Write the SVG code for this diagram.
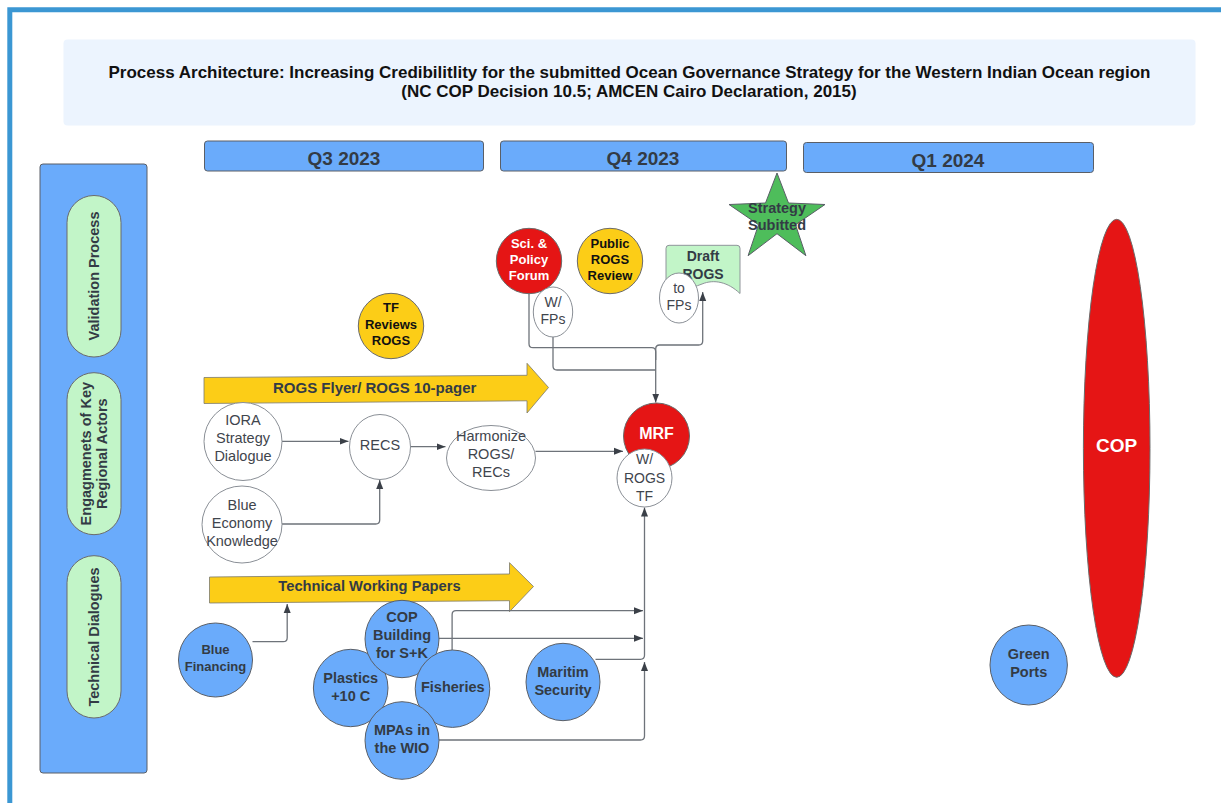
<svg xmlns="http://www.w3.org/2000/svg" width="1221" height="803" viewBox="0 0 1221 803">
  <defs>
    <marker id="ah" markerUnits="userSpaceOnUse" markerWidth="10" markerHeight="8" refX="9" refY="4" orient="auto">
      <path d="M0,0.5 L9,4 L0,7.5 Z" fill="#3b4048"/>
    </marker>
    <style>
      text { font-family: "Liberation Sans", Arial, sans-serif; text-anchor: middle; }
      .b { font-weight: bold; }
      .dk { fill: #333b45; }
      .gy { fill: #3f454d; }
      .wt { fill: #ffffff; }
      .bk { fill: #111111; }
      .blue { fill: #6aabfb; stroke: #5a5f67; stroke-width: 1; }
      .white { fill: #ffffff; stroke: #8a8f96; stroke-width: 1; }
      .red { fill: #e51515; stroke: #6a6a6a; stroke-width: 1; }
      .yel { fill: #fccd17; stroke: #6a6a6a; stroke-width: 1; }
      .pill { fill: #c2f5c8; stroke: #6b6b6b; stroke-width: 1; }
      .conn { fill: none; stroke: #6e737a; stroke-width: 1.3; }
      .arr { marker-end: url(#ah); }
    </style>
  </defs>

  <!-- page frame -->
  <path d="M9.8,803 V9.8 H1221" fill="none" stroke="#3b97d3" stroke-width="5"/>

  <!-- title -->
  <g id="title">
    <rect x="63.5" y="39.5" width="1132" height="86" rx="4" fill="#ecf4fe"/>
    <text x="629.5" y="77.8" class="b bk" font-size="17">Process Architecture: Increasing Credibilitlity for the submitted Ocean Governance Strategy for the Western Indian Ocean region</text>
    <text x="629" y="96.8" class="b bk" font-size="17">(NC COP Decision 10.5; AMCEN Cairo Declaration, 2015)</text>
  </g>

  <!-- quarter headers -->
  <g id="q3-2023">
    <rect x="204.5" y="141" width="279" height="30" rx="3" class="blue"/>
    <text x="344" y="164.8" class="b dk" font-size="19">Q3 2023</text>
  </g>
  <g id="q4-2023">
    <rect x="500.5" y="141" width="286" height="30" rx="3" class="blue"/>
    <text x="643" y="164.8" class="b dk" font-size="19">Q4 2023</text>
  </g>
  <g id="q1-2024">
    <rect x="803.5" y="142.5" width="290" height="30" rx="3" class="blue"/>
    <text x="948" y="166.8" class="b dk" font-size="19">Q1 2024</text>
  </g>

  <!-- swimlane labels -->
  <g id="lanes">
    <rect x="40" y="164" width="107" height="609" rx="3" class="blue"/>
  </g>
  <g id="lane-validation">
    <rect x="67" y="195.5" width="54" height="161.5" rx="27" class="pill" stroke="#4a90d9"/>
    <text transform="translate(99,276) rotate(-90)" class="b dk" font-size="14.5">Validation Process</text>
  </g>
  <g id="lane-engagement">
    <rect x="67" y="372.7" width="54" height="162" rx="27" class="pill"/>
    <text transform="translate(91.3,453.7) rotate(-90)" class="b dk" font-size="14.5">Engagmenets of Key</text>
    <text transform="translate(106.8,453.7) rotate(-90)" class="b dk" font-size="14.5">Regional Actors</text>
  </g>
  <g id="lane-technical">
    <rect x="67" y="555.7" width="54" height="162.3" rx="27" class="pill"/>
    <text transform="translate(99,637) rotate(-90)" class="b dk" font-size="14.5">Technical Dialogues</text>
  </g>

  <!-- block arrows -->
  <g id="rogs-flyer">
    <path d="M204,377.5 L527,375.3 L527,363.3 L548.5,387.5 L527,413 L527,400.8 L204,403.5 Z" fill="#fccd17" stroke="#7a7a70" stroke-width="0.8" stroke-linejoin="round"/>
    <text x="374.7" y="392.5" class="b dk" font-size="15">ROGS Flyer/ ROGS 10-pager</text>
  </g>
  <g id="technical-papers">
    <path d="M209.5,577 L509.5,574 L509.5,562.7 L533.5,586.5 L509.5,611.7 L509.5,600.7 L209.5,603 Z" fill="#fccd17" stroke="#7a7a70" stroke-width="0.8" stroke-linejoin="round"/>
    <text x="369.5" y="591.3" class="b dk" font-size="14.7">Technical Working Papers</text>
  </g>

  <!-- connectors -->
  <g id="connectors">
    <path class="conn arr" d="M529,293.5 V343.7 Q529,347.7 533,347.7 H651.7 Q655.7,347.7 655.7,351.7 V402.5"/>
    <path class="conn" d="M553,336.7 V366 Q553,370 557,370 H655.7"/>
    <path class="conn arr" d="M655.7,360 V349 Q655.7,345 659.7,345 H698.7 Q702.7,345 702.7,341 V292"/>
    <path class="conn arr" d="M282,441.3 H348.5"/>
    <path class="conn arr" d="M410.3,446.7 H445.5"/>
    <path class="conn arr" d="M535.5,451.3 H623"/>
    <path class="conn arr" d="M281.8,524 H375.7 Q379.7,524 379.7,520 V480"/>
    <path class="conn arr" d="M252.5,641.7 H283.2 Q287.2,641.7 287.2,637.7 V604"/>
    <path class="conn arr" d="M452.1,650 V614.7 Q452.1,610.7 456.1,610.7 H643"/>
    <path class="conn arr" d="M438.9,638.3 H643"/>
    <path class="conn arr" d="M595.5,659.3 H640.5 Q644.5,659.3 644.5,655.3 V507.5"/>
    <path class="conn arr" d="M438.9,740 H640.5 Q644.5,740 644.5,736 V662"/>
  </g>

  <!-- validation stage nodes -->
  <g id="tf-reviews">
    <circle cx="391" cy="326" r="32.7" class="yel"/>
    <text x="391" y="312.4" class="b bk" font-size="13">TF</text>
    <text x="391" y="329" class="b bk" font-size="13">Reviews</text>
    <text x="391" y="345" class="b bk" font-size="13">ROGS</text>
  </g>
  <g id="sci-policy-forum">
    <circle cx="529" cy="261" r="32.7" class="red"/>
    <text x="529" y="248" class="b wt" font-size="13">Sci. &amp;</text>
    <text x="529" y="264.2" class="b wt" font-size="13">Policy</text>
    <text x="529" y="280.4" class="b wt" font-size="13">Forum</text>
  </g>
  <g id="with-fps">
    <ellipse cx="553" cy="312" rx="19.7" ry="25" class="white"/>
    <text x="553" y="306.7" class="gy" font-size="14">W/</text>
    <text x="553" y="324.3" class="gy" font-size="14">FPs</text>
  </g>
  <g id="public-review">
    <circle cx="610" cy="261" r="32.7" class="yel"/>
    <text x="610" y="247.6" class="b bk" font-size="13">Public</text>
    <text x="610" y="263.9" class="b bk" font-size="13">ROGS</text>
    <text x="610" y="280.4" class="b bk" font-size="13">Review</text>
  </g>
  <g id="draft-rogs">
    <path d="M669,245.3 H737 Q740,245.3 740,248.3 V293.5 C728,282 714,279 702,284 C690,289 678,290 666,285 V248.3 Q666,245.3 669,245.3 Z" fill="#c2f5c8" stroke="#8f949a" stroke-width="1"/>
    <text x="703" y="261" class="b dk" font-size="14">Draft</text>
    <text x="703" y="279" class="b dk" font-size="14">ROGS</text>
  </g>
  <g id="to-fps">
    <ellipse cx="679" cy="298" rx="19.5" ry="25" class="white"/>
    <text x="679" y="292.5" class="gy" font-size="14">to</text>
    <text x="679" y="310" class="gy" font-size="14">FPs</text>
  </g>
  <g id="strategy-submitted">
    <polygon points="777,173 788.5,203 825,204.5 795.5,224.7 805.9,255.7 777,233.7 748.1,255.7 758.5,224.7 729,204.5 765.5,203" fill="#4ebd5b" stroke="#5a5f67" stroke-width="1" stroke-linejoin="round"/>
    <text x="777" y="212.7" class="b dk" font-size="14.5">Strategy</text>
    <text x="777" y="230" class="b dk" font-size="14.5">Subitted</text>
  </g>

  <!-- regional engagement nodes -->
  <g id="iora">
    <ellipse cx="243" cy="441.5" rx="39" ry="39" class="white"/>
    <text x="243" y="425" class="gy" font-size="14.5">IORA</text>
    <text x="243" y="443.3" class="gy" font-size="14.5">Strategy</text>
    <text x="243" y="460.7" class="gy" font-size="14.5">Dialogue</text>
  </g>
  <g id="recs">
    <ellipse cx="380" cy="447" rx="30.5" ry="32.5" class="white"/>
    <text x="380" y="449.5" class="gy" font-size="14.5">RECS</text>
  </g>
  <g id="harmonize">
    <ellipse cx="491" cy="458" rx="44.5" ry="32.5" class="white"/>
    <text x="491" y="440.9" class="gy" font-size="14.5">Harmonize</text>
    <text x="491" y="459.2" class="gy" font-size="14.5">ROGS/</text>
    <text x="491" y="476.9" class="gy" font-size="14.5">RECs</text>
  </g>
  <g id="blue-economy">
    <ellipse cx="242" cy="524.5" rx="40" ry="38.5" class="white"/>
    <text x="242" y="509.5" class="gy" font-size="14.5">Blue</text>
    <text x="242" y="527.9" class="gy" font-size="14.5">Economy</text>
    <text x="242" y="545.9" class="gy" font-size="14.5">Knowledge</text>
  </g>
  <g id="mrf">
    <circle cx="656.5" cy="436" r="33" class="red"/>
    <text x="656.5" y="439.2" class="b wt" font-size="16">MRF</text>
  </g>
  <g id="with-rogs-tf">
    <ellipse cx="644.5" cy="478" rx="27.5" ry="29" class="white"/>
    <text x="644.5" y="464.3" class="gy" font-size="14">W/</text>
    <text x="644.5" y="482.7" class="gy" font-size="14">ROGS</text>
    <text x="644.5" y="500.7" class="gy" font-size="14">TF</text>
  </g>

  <!-- technical dialogue nodes -->
  <g id="blue-financing">
    <ellipse cx="215.5" cy="660" rx="37" ry="37" class="blue"/>
    <text x="215.5" y="654" class="b dk" font-size="13">Blue</text>
    <text x="215.5" y="670.7" class="b dk" font-size="13">Financing</text>
  </g>
  <g id="plastics">
    <ellipse cx="350.7" cy="688" rx="37.3" ry="38.7" class="blue"/>
    <text x="350.7" y="682.7" class="b dk" font-size="14.5">Plastics</text>
    <text x="350.7" y="700.7" class="b dk" font-size="14.5">+10 C</text>
  </g>
  <g id="cop-building">
    <ellipse cx="402" cy="639" rx="37" ry="38.7" class="blue"/>
    <text x="402" y="621.7" class="b dk" font-size="14.5">COP</text>
    <text x="402" y="640" class="b dk" font-size="14.5">Building</text>
    <text x="402" y="657.7" class="b dk" font-size="14.5">for S+K</text>
  </g>
  <g id="fisheries">
    <ellipse cx="452.5" cy="688.7" rx="37.3" ry="38.7" class="blue"/>
    <text x="452.8" y="691.9" class="b dk" font-size="14.5">Fisheries</text>
  </g>
  <g id="mpas">
    <ellipse cx="402" cy="740.5" rx="37" ry="38.8" class="blue"/>
    <text x="402" y="735.3" class="b dk" font-size="14.5">MPAs in</text>
    <text x="402" y="753" class="b dk" font-size="14.5">the WIO</text>
  </g>
  <g id="maritime-security">
    <ellipse cx="563" cy="682" rx="37" ry="38.7" class="blue"/>
    <text x="563" y="676.5" class="b dk" font-size="14.5">Maritim</text>
    <text x="563" y="694.5" class="b dk" font-size="14.5">Security</text>
  </g>
  <g id="green-ports">
    <ellipse cx="1028.7" cy="665" rx="38.7" ry="40" class="blue"/>
    <text x="1028.7" y="659" class="b dk" font-size="14.5">Green</text>
    <text x="1028.7" y="676.7" class="b dk" font-size="14.5">Ports</text>
  </g>

  <!-- conference of parties -->
  <g id="cop">
    <ellipse cx="1116.7" cy="448.3" rx="33.3" ry="229" class="red"/>
    <text x="1116.7" y="451.8" class="b wt" font-size="19">COP</text>
  </g>
</svg>
